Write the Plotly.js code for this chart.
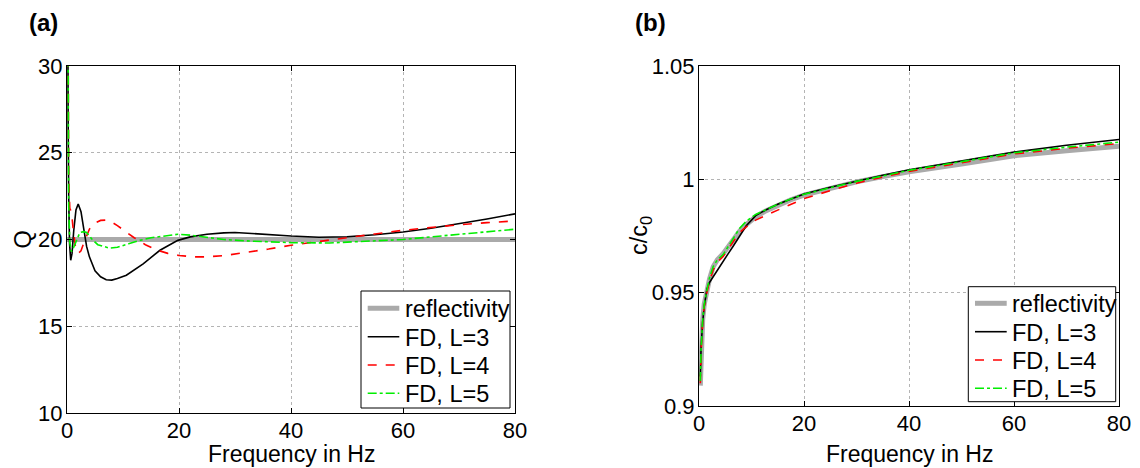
<!DOCTYPE html>
<html>
<head>
<meta charset="utf-8">
<script src="https://cdn.plot.ly/plotly-3.0.1.min.js"></script>
<style>html,body{margin:0;padding:0;background:#fff;}#chart{width:1140px;height:468px;}</style>
</head>
<body>
<div id="chart"></div>
<script>
// ---- Data ----
const seriesNames = ["reflectivity", "FD, L=3", "FD, L=4", "FD, L=5"];

// Panel (a): Q versus frequency
const fReflQ = [0, 80];
const qRefl = [20, 20];

const fL3Q = [0.05, 0.1, 0.2, 0.3, 0.45, 0.66, 0.9, 1.2, 1.6, 2.0, 2.5, 3.0, 3.5, 4, 5, 6, 7, 8, 9, 10.6, 13.6, 16.6, 19.8, 22, 25, 28, 30, 33, 36, 40, 45, 50, 55, 60, 65, 70, 75, 80];
const qL3 = [45, 34, 27, 22.5, 19.8, 18.8, 19.2, 20.5, 21.7, 22.05, 21.6, 20.6, 19.6, 19.0, 18.2, 17.85, 17.68, 17.66, 17.75, 17.94, 18.6, 19.38, 19.95, 20.15, 20.3, 20.38, 20.4, 20.35, 20.28, 20.2, 20.13, 20.16, 20.27, 20.43, 20.65, 20.9, 21.18, 21.48];

const fL4Q = [0.05, 0.15, 0.3, 0.5, 0.8, 1.1, 1.5, 2.0, 2.5, 3, 4, 5, 6, 7, 8, 9, 10, 12, 14, 16, 18, 20, 22.5, 25, 28, 32.6, 36, 40, 45, 50.5, 55, 60, 65, 70, 75, 80];
const qL4 = [45, 30, 23.5, 21.8, 21.6, 20.6, 19.6, 19.2, 19.35, 19.8, 20.6, 20.95, 21.1, 21.12, 21.0, 20.8, 20.55, 20.1, 19.7, 19.4, 19.2, 19.08, 19.0, 19.0, 19.07, 19.28, 19.45, 19.67, 19.9, 20.14, 20.32, 20.53, 20.7, 20.85, 20.97, 21.07];

const fL5Q = [0.05, 0.15, 0.3, 0.5, 0.8, 1.0, 1.5, 2.3, 3, 3.5, 4.5, 5.5, 7.6, 9, 11, 13, 15, 17, 19.8, 22, 24.9, 28, 32.6, 40, 46.9, 53, 60, 65, 70, 75, 80];
const qL5 = [45, 28, 22, 19.8, 19.3, 19.4, 19.8, 20.4, 20.45, 20.4, 20.0, 19.7, 19.5, 19.55, 19.75, 19.95, 20.1, 20.2, 20.3, 20.25, 20.14, 20.0, 19.91, 19.82, 19.8, 19.88, 20.0, 20.15, 20.3, 20.45, 20.59];

// Panel (b): c/c0 versus frequency
const fC = [0.25, 0.4, 0.7, 1.0, 1.5, 2.0, 2.7, 3.5, 4.6, 5.5, 6.5, 7.7, 9, 10.8, 12.8, 15, 17.5, 20, 25, 30, 35, 40, 50, 60, 70, 80];
const cRefl = [0.909, 0.925, 0.938, 0.945, 0.951, 0.956, 0.9614, 0.9645, 0.9672, 0.970, 0.9735, 0.977, 0.980, 0.9835, 0.9862, 0.9885, 0.991, 0.993, 0.996, 0.9989, 1.0012, 1.0033, 1.0068, 1.0104, 1.0126, 1.0146];
const cL3 = [0.913, 0.926, 0.937, 0.944, 0.9515, 0.9545, 0.957, 0.960, 0.9635, 0.967, 0.9705, 0.975, 0.9795, 0.984, 0.9866, 0.989, 0.9914, 0.9935, 0.9965, 0.9993, 1.0018, 1.0042, 1.0082, 1.0120, 1.0150, 1.0176];
const cL4 = [0.910, 0.924, 0.937, 0.944, 0.950, 0.955, 0.960, 0.9635, 0.966, 0.969, 0.9725, 0.9765, 0.979, 0.982, 0.9842, 0.9865, 0.9892, 0.9915, 0.995, 0.9983, 1.001, 1.0035, 1.0073, 1.0112, 1.0137, 1.0158];
const cL5 = [0.911, 0.925, 0.938, 0.945, 0.951, 0.9565, 0.9615, 0.9645, 0.9668, 0.970, 0.9737, 0.9783, 0.9815, 0.9845, 0.9866, 0.989, 0.9913, 0.9934, 0.9963, 0.9991, 1.0015, 1.004, 1.0078, 1.0117, 1.0142, 1.0164];

const xTicks = [0, 20, 40, 60, 80];
const qTicks = [10, 15, 20, 25, 30];
const cTicks = [0.9, 0.95, 1, 1.05];
const cTickText = ["0.9", "0.95", "1", "1.05"];
const xTitle = "Frequency in Hz";
const yTitleA = "Q";
const yTitleB = "c/c<sub>0</sub>";
const panelLabels = ["(a)", "(b)"];

// ---- Styles ----
const FONT = "Liberation Sans, Arial, Helvetica, sans-serif";
const W = 1140, H = 468;
const TICK = 22, TXT = 23.5, XTITLE = 23;
const styles = [
  {color: "#aaaaaa", width: 5, dash: "solid"},
  {color: "#000000", width: 1.6, dash: "solid"},
  {color: "#ff0000", width: 1.6, dash: "dash"},
  {color: "#00ee00", width: 1.6, dash: "dashdot"}
];

function tr(x, y, i, xa, ya) {
  return {x: x, y: y, type: "scatter", mode: "lines", name: seriesNames[i],
          xaxis: xa, yaxis: ya, line: styles[i], hoverinfo: "skip", showlegend: false};
}

const data = [
  tr(fReflQ, qRefl, 0, "x", "y"),
  tr(fL3Q, qL3, 1, "x", "y"),
  tr(fL4Q, qL4, 2, "x", "y"),
  tr(fL5Q, qL5, 3, "x", "y"),
  tr(fC, cRefl, 0, "x2", "y2"),
  tr(fC, cL3, 1, "x2", "y2"),
  tr(fC, cL4, 2, "x2", "y2"),
  tr(fC, cL5, 3, "x2", "y2")
];

function axisBase(isX) {
  return {
    showline: true, linecolor: "#000", linewidth: 1, mirror: "ticks",
    ticks: "inside", ticklen: 5, tickcolor: "#000", tickwidth: 1,
    showgrid: true, gridcolor: "#b4b4b4", griddash: "dot", gridwidth: 1,
    zeroline: false, tickfont: {family: FONT, size: TICK, color: "#000"},
    ticklabelstandoff: isX ? -2 : -1,
    fixedrange: true
  };
}
const px = v => v / W;
const py = v => 1 - v / H;

// manual legends (frame, line samples and real-text labels), in paper coordinates
const legends = [
  {box: [361, 291, 510, 408], rows: [308.3, 336.7, 365, 393.3], l0: 367.7, l1: 399.3, tx: 402.5},
  {box: [968.3, 286.7, 1115.7, 401.7], rows: [303.3, 331.7, 360, 388.3], l0: 975, l1: 1006.7, tx: 1009.5}
];
const shapes = [], annotations = [];
legends.forEach(lg => {
  shapes.push({type: "rect", xref: "paper", yref: "paper",
    x0: px(lg.box[0]), x1: px(lg.box[2]), y0: py(lg.box[1]), y1: py(lg.box[3]),
    line: {color: "#000", width: 1}, fillcolor: "#fff", layer: "above"});
  seriesNames.forEach((nm, i) => {
    shapes.push({type: "line", xref: "paper", yref: "paper",
      x0: px(lg.l0), x1: px(lg.l1), y0: py(lg.rows[i]), y1: py(lg.rows[i]),
      line: {color: styles[i].color, width: styles[i].width, dash: styles[i].dash}, layer: "above"});
    annotations.push({text: nm, xref: "paper", yref: "paper", x: px(lg.tx), y: py(lg.rows[i] + 1),
      xanchor: "left", yanchor: "middle", showarrow: false, font: {family: FONT, size: TXT, color: "#000"}});
  });
});

// axis titles and panel labels as text
annotations.push({text: xTitle, xref: "paper", yref: "paper", x: px(291.5), y: py(454),
  xanchor: "center", yanchor: "middle", showarrow: false, borderpad: 0, font: {family: FONT, size: XTITLE, color: "#000"}});
annotations.push({text: xTitle, xref: "paper", yref: "paper", x: px(909), y: py(454),
  xanchor: "center", yanchor: "middle", showarrow: false, borderpad: 0, font: {family: FONT, size: XTITLE, color: "#000"}});
annotations.push({text: yTitleA, xref: "paper", yref: "paper", x: px(23), y: py(239.5), textangle: -90,
  xanchor: "center", yanchor: "middle", showarrow: false, font: {family: FONT, size: TXT, color: "#000"}});
annotations.push({text: yTitleB, xref: "paper", yref: "paper", x: px(640), y: py(236), textangle: -90,
  xanchor: "center", yanchor: "middle", showarrow: false, font: {family: FONT, size: TXT, color: "#000"}});
annotations.push({text: "<b>" + panelLabels[0] + "</b>", xref: "paper", yref: "paper", x: px(27), y: py(22),
  xanchor: "left", yanchor: "middle", showarrow: false, font: {family: FONT, size: 24, color: "#000"}});
annotations.push({text: "<b>" + panelLabels[1] + "</b>", xref: "paper", yref: "paper", x: px(633), y: py(22),
  xanchor: "left", yanchor: "middle", showarrow: false, font: {family: FONT, size: 24, color: "#000"}});

const layout = {
  width: W, height: H,
  margin: {l: 0, r: 0, t: 0, b: 0},
  paper_bgcolor: "#fff", plot_bgcolor: "#fff",
  font: {family: FONT, size: TICK, color: "#000"},
  showlegend: false,
  xaxis: Object.assign(axisBase(true), {domain: [px(67), px(515)], range: [0, 80], tickvals: xTicks, anchor: "y"}),
  yaxis: Object.assign(axisBase(false), {domain: [py(413), py(66)], range: [10, 30], tickvals: qTicks, anchor: "x"}),
  xaxis2: Object.assign(axisBase(true), {domain: [px(699), px(1119)], range: [0, 80], tickvals: xTicks, anchor: "y2"}),
  yaxis2: Object.assign(axisBase(false), {domain: [py(406), py(66)], range: [0.9, 1.05], tickvals: cTicks, ticktext: cTickText, anchor: "x2"}),
  shapes: shapes,
  annotations: annotations
};

Plotly.newPlot("chart", data, layout, {displayModeBar: false, staticPlot: true});
</script>
</body>
</html>
